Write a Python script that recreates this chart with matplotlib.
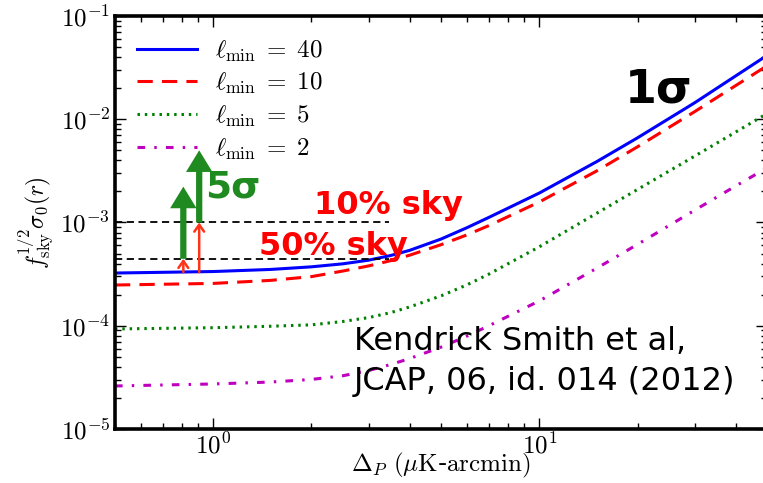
import numpy as np
import matplotlib
matplotlib.use("Agg")
import matplotlib.pyplot as plt
from matplotlib.ticker import FuncFormatter

plt.rcParams["mathtext.fontset"] = "cm"
plt.rcParams["font.family"] = "DejaVu Sans"

# noise level Delta_P (uK-arcmin)
delta_p = [0.5, 1, 1.5, 2, 2.5, 3, 3.5, 4, 5, 6, 7, 10, 15, 20, 30, 40, 50]

# f_sky^{1/2} sigma_0(r) for each l_min
sig_l40 = [3.24e-4, 3.35e-4, 3.51e-4, 3.72e-4, 3.98e-4, 4.32e-4, 4.79e-4,
           5.37e-4, 6.92e-4, 8.91e-4, 1.12e-3, 1.93e-3, 3.89e-3, 6.61e-3,
           1.45e-2, 2.63e-2, 4.17e-2]
sig_l10 = [2.48e-4, 2.57e-4, 2.75e-4, 2.99e-4, 3.39e-4, 3.80e-4, 4.27e-4,
           4.82e-4, 6.10e-4, 7.59e-4, 9.33e-4, 1.58e-3, 3.16e-3, 5.41e-3,
           1.19e-2, 2.12e-2, 3.31e-2]
sig_l5 = [9.31e-5, 9.57e-5, 9.89e-5, 1.02e-4, 1.10e-4, 1.20e-4, 1.34e-4,
          1.52e-4, 1.95e-4, 2.49e-4, 3.16e-4, 5.82e-4, 1.23e-3, 2.09e-3,
          4.41e-3, 7.52e-3, 1.14e-2]
sig_l2 = [2.61e-5, 2.73e-5, 2.85e-5, 3.02e-5, 3.28e-5, 3.69e-5, 4.21e-5,
          4.81e-5, 6.21e-5, 7.94e-5, 1.0e-4, 1.74e-4, 3.61e-4, 6.14e-4,
          1.32e-3, 2.26e-3, 3.39e-3]

# required r for 1 sigma at 10% and 50% sky, and where the arrows sit
sky_levels = [1.0e-3, 4.45e-4]
sky_labels = ["10% sky", "50% sky"]
level_xmax = 3.45
arrow_x = [0.906, 0.81]
arrow_base = [3.3e-4, 3.3e-4]
n_sigma = 5

fig = plt.figure(figsize=(7.63, 4.83), dpi=100)
ax = fig.add_axes([0.1507, 0.1118, 0.855, 0.8551])

ax.plot(delta_p, sig_l40, color="b", lw=2.2, label=r"$\ell_{\rm min}\;=\;40$")
ax.plot(delta_p, sig_l10, color="r", lw=2.2, ls=(0, (5, 3)),
        label=r"$\ell_{\rm min}\;=\;10$")
ax.plot(delta_p, sig_l5, color="g", lw=2.2, ls=(0, (0.8, 1.6)),
        label=r"$\ell_{\rm min}\;=\;5$")
ax.plot(delta_p, sig_l2, color="m", lw=2.2, ls=(0, (2.5, 3, 0.8, 3)),
        label=r"$\ell_{\rm min}\;=\;2$")

for lev in sky_levels:
    ax.plot([0.5, level_xmax], [lev, lev], color="k", lw=1.3, ls=(0, (4, 2.5)))

# 1 sigma (red) and 5 sigma (green) arrows
for x, base, lev in zip(arrow_x, arrow_base, sky_levels):
    ax.annotate("", xy=(x, lev), xytext=(x, base),
                arrowprops=dict(arrowstyle="->,head_length=0.5,head_width=0.35",
                                color="#ff3318", lw=1.8, shrinkA=0, shrinkB=0))
    ax.annotate("", xy=(x, lev * n_sigma), xytext=(x, lev),
                arrowprops=dict(arrowstyle="-|>,head_length=0.9,head_width=0.55",
                                color="#1f8a1f", lw=4.5, shrinkA=0, shrinkB=0,
                                joinstyle="miter", capstyle="butt"))

ax.text(0.945, 1.75e-3, "5σ", color="#1f8a1f", fontsize=27, fontweight="bold",
        ha="left", va="baseline")
ax.text(2.04, 1.21e-3, sky_labels[0], color="#ff0000", fontsize=23,
        fontweight="bold", ha="left", va="baseline")
ax.text(1.38, 4.84e-4, sky_labels[1], color="#ff0000", fontsize=23,
        fontweight="bold", ha="left", va="baseline")
ax.text(18.3, 1.44e-2, "1σ", color="k", fontsize=33, fontweight="bold",
        ha="left", va="baseline")
ax.text(2.70, 5.82e-5, "Kendrick Smith et al,", color="k", fontsize=23,
        ha="left", va="baseline")
ax.text(2.70, 2.39e-5, "JCAP, 06, id. 014 (2012)", color="k", fontsize=23,
        ha="left", va="baseline")

ax.set_xscale("log")
ax.set_yscale("log")
ax.set_xlim(0.5, 50)
ax.set_ylim(1e-5, 1e-1)

pow10 = FuncFormatter(lambda v, p: r"$10^{%d}$" % round(np.log10(v)))
ax.xaxis.set_major_formatter(pow10)
ax.yaxis.set_major_formatter(pow10)

ax.set_xlabel(r"$\Delta_P\ (\mu{\rm K}$-${\rm arcmin})$", fontsize=18,
              labelpad=-6)
ax.set_ylabel(r"$f_{\rm sky}^{1/2}\sigma_0(r)$", fontsize=17, labelpad=4)

ax.tick_params(which="both", direction="in", top=True, right=True,
               labelsize=18, width=1)
ax.tick_params(which="major", length=8)
ax.tick_params(which="minor", length=4)
ax.tick_params(axis="x", pad=3)
for s in ax.spines.values():
    s.set_linewidth(2.6)

leg = ax.legend(loc="upper left", frameon=False, fontsize=18,
                handlelength=2.4, labelspacing=0.3, borderaxespad=0.5,
                handletextpad=0.7)

plt.savefig("out.png")
